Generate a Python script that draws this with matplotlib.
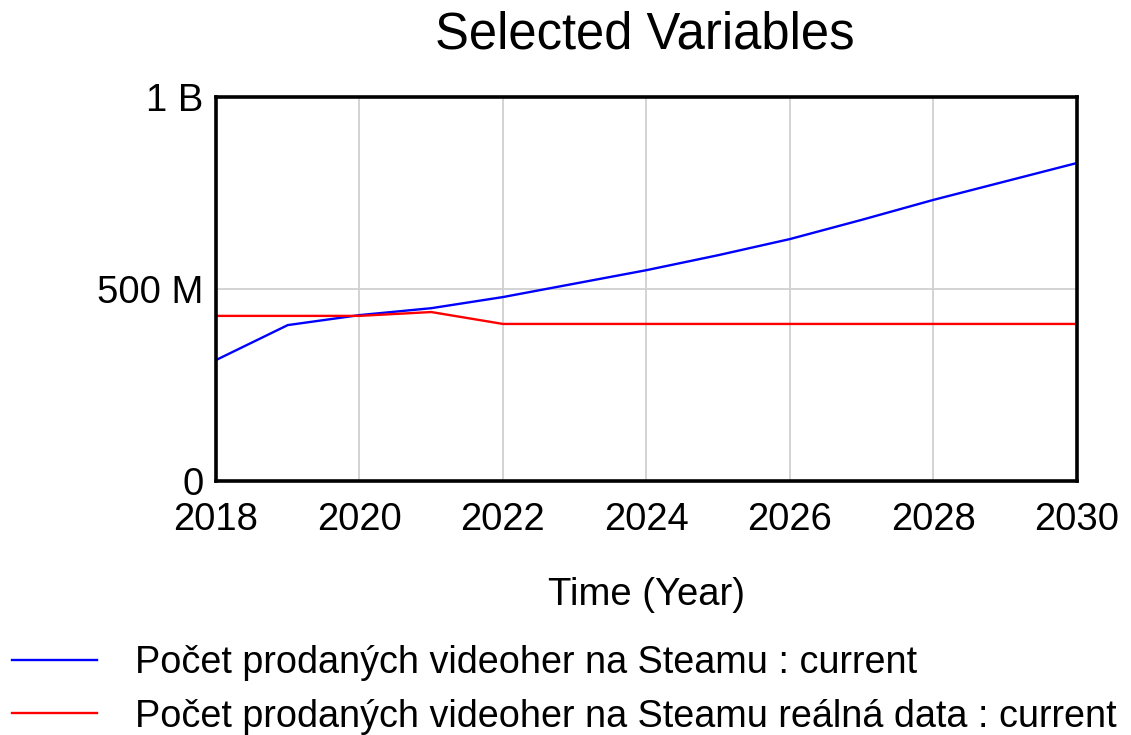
import matplotlib.pyplot as plt
from matplotlib.ticker import FixedLocator

plt.rcParams['font.family'] = ['Liberation Sans', 'DejaVu Sans']

# data
roky = [2018, 2019, 2020, 2021, 2022, 2023, 2024, 2025, 2026, 2027, 2028, 2029, 2030]
model = [315e6, 406e6, 432e6, 450e6, 479e6, 514e6, 549e6, 588e6, 630e6, 680e6, 732e6, 780e6, 828e6]
realna = [430e6, 430e6, 430e6, 440e6, 409e6, 409e6, 409e6, 409e6, 409e6, 409e6, 409e6, 409e6, 409e6]

y_ticks = [0, 500e6, 1e9]
y_labels = ['0', '500 M', '1 B']
x_ticks = [2018, 2020, 2022, 2024, 2026, 2028, 2030]

fig = plt.figure(figsize=(11.31, 7.35), dpi=100)
ax = fig.add_axes([0.191, 0.3456, 0.761, 0.5224])

l1, = ax.plot(roky, model, color='#0000ff', lw=1.7, label='Počet prodaných videoher na Steamu : current')
l2, = ax.plot(roky, realna, color='#ff0000', lw=1.7, label='Počet prodaných videoher na Steamu reálná data : current')

ax.set_xlim(2018, 2030)
ax.set_ylim(0, 1e9)
ax.xaxis.set_major_locator(FixedLocator(x_ticks))
ax.set_yticks(y_ticks)
ax.set_yticklabels(y_labels)
ax.grid(True, color='#d0d0d0', lw=1.3)
ax.set_axisbelow(True)
ax.tick_params(length=0, labelsize=27.5)
ax.tick_params(axis='x', pad=15)
ax.tick_params(axis='y', pad=9)
for s in ax.spines.values():
    s.set_linewidth(2.6)
    s.set_color('black')

ax.set_xlabel('Time (Year)', fontsize=27.5, labelpad=28)
fig.text(0.570, 0.952, 'Selected Variables', fontsize=36.5, ha='center', va='center')

fig.legend(handles=[l1, l2], loc='upper left', bbox_to_anchor=(0.0106, 0.122), bbox_transform=fig.transFigure,
           frameon=False, fontsize=27.2, handlelength=2.25, handletextpad=1.0, labelspacing=0.46,
           borderaxespad=0.0, borderpad=0.0)

fig.savefig('out.png', dpi=100)
plt.close()
